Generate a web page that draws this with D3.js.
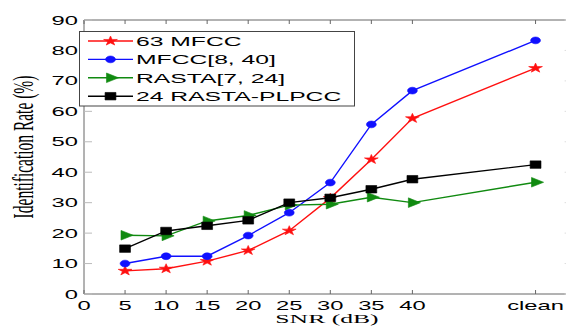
<!DOCTYPE html>
<html><head><meta charset="utf-8">
<script src="https://cdn.jsdelivr.net/npm/d3@7"></script>
<style>
html,body{margin:0;padding:0;background:#fff;overflow:hidden}
svg{display:block}
</style></head>
<body>
<script>
// ---- data ----
const snrLabels = ["5","10","15","20","25","30","35","40","clean"];
const snrPos    = [5,10,15,20,25,30,35,40,55];
const xTicks      = [0,5,10,15,20,25,30,35,40,55];
const xTickLabels = ["0","5","10","15","20","25","30","35","40","clean"];
const yTicks = [0,10,20,30,40,50,60,70,80,90];
const seriesNames = ["63 MFCC","MFCC[8, 40]","RASTA[7, 24]","24 RASTA-PLPCC"];
const mfcc63     = [7.6, 8.3, 10.8, 14.3, 20.8, 31.5, 44.2, 57.7, 74.2];
const mfcc840    = [10.0, 12.4, 12.4, 19.2, 26.7, 36.6, 55.7, 66.8, 83.3];
const rasta724   = [19.3, 19.1, 24.0, 25.8, 29.2, 29.5, 31.8, 30.0, 36.7];
const rastaPlpcc = [14.9, 20.7, 22.4, 24.2, 30.0, 31.6, 34.4, 37.7, 42.5];
const seriesValues = [mfcc63, mfcc840, rasta724, rastaPlpcc];
const seriesColors = ["#ff1010","#1010ff","#108a10","#000000"];
const seriesMarkers = ["star","circle","triangle","square"];

const W=566,H=326, SX=1.9;
const svg=d3.select("body").append("svg").attr("width",W).attr("height",H);
const x=d3.scaleLinear().domain([0,60]).range([84,576.6]);
const y=d3.scaleLinear().domain([0,90]).range([294,20]);
const axisColor="#666";
const sans="'Liberation Sans', Arial, sans-serif";
const serif="'Liberation Serif', 'Times New Roman', serif";

// frame lines
const frame=svg.append("g").attr("stroke",axisColor).attr("stroke-width",1).attr("fill","none");
frame.append("line").attr("x1",x(0)).attr("x2",x(60)).attr("y1",y(0)).attr("y2",y(0));
frame.append("line").attr("x1",x(0)).attr("x2",x(60)).attr("y1",y(90)).attr("y2",y(90));
frame.append("line").attr("x1",x(0)).attr("x2",x(0)).attr("y1",y(0)).attr("y2",y(90));
frame.append("line").attr("x1",x(60)).attr("x2",x(60)).attr("y1",y(0)).attr("y2",y(90));
// ticks
xTicks.forEach(v=>{
  frame.append("line").attr("x1",x(v)).attr("x2",x(v)).attr("y1",y(0)).attr("y2",y(0)-4);
  frame.append("line").attr("x1",x(v)).attr("x2",x(v)).attr("y1",y(90)).attr("y2",y(90)+4);
});
yTicks.forEach(v=>{
  frame.append("line").attr("x1",x(0)).attr("x2",x(0)+8).attr("y1",y(v)).attr("y2",y(v)).attr("stroke","#bbb");
  frame.append("line").attr("x1",x(60)).attr("x2",x(60)-12).attr("y1",y(v)).attr("y2",y(v)).attr("stroke","#ddd");
});
// tick labels
function stretchedText(g, tx, ty, txt, anchor, size, family){
  return g.append("text").attr("transform",`translate(${tx},${ty}) scale(${SX},1)`)
    .attr("text-anchor",anchor).attr("font-family",family).attr("font-size",size)
    .attr("fill","#000").text(txt);
}
const labels=svg.append("g");
xTicks.forEach((v,i)=>stretchedText(labels, x(v), 309.5, xTickLabels[i], "middle", 12.5, sans));
yTicks.forEach(v=>stretchedText(labels, 78, y(v)+4.5, String(v), "end", 12.5, sans));
// axis titles
labels.append("text").attr("transform",`translate(33,147) scale(${SX},1) rotate(-90)`)
  .attr("text-anchor","middle").attr("font-family",serif).attr("font-size",15.5).text("Identification Rate (%)");
stretchedText(labels, 327, 322.5, "SNR (dB)", "middle", 13.5, serif);

// markers
function marker(g, type, cx, cy, color){
  let sym, sx=1.45, size;
  if(type==="star"){sym=d3.symbolStar; size=28;}
  else if(type==="circle"){sym=d3.symbolCircle; size=36;}
  else if(type==="triangle"){sym=d3.symbolTriangle; size=40;}
  else {sym=d3.symbolSquare; size=56;}
  const p=g.append("path").attr("d",d3.symbol().type(sym).size(size)()).attr("fill",color).attr("stroke",color).attr("stroke-width",0.5);
  if(type==="triangle") p.attr("transform",`translate(${cx},${cy}) scale(${sx},1) rotate(90)`);
  else p.attr("transform",`translate(${cx},${cy}) scale(${sx},1)`);
}

// series
const line=d3.line().x((d,i)=>x(snrPos[i])).y(d=>y(d));
seriesValues.forEach((vals,k)=>{
  const g=svg.append("g");
  g.append("path").datum(vals).attr("d",line).attr("fill","none").attr("stroke",seriesColors[k]).attr("stroke-width",1.4);
  vals.forEach((v,i)=>marker(g, seriesMarkers[k], x(snrPos[i]), y(v), seriesColors[k]));
});

// legend
const lg=svg.append("g");
lg.append("rect").attr("x",79.5).attr("y",31.5).attr("width",275).attr("height",74.5).attr("fill","#fff").attr("stroke","#444").attr("stroke-width",1);
seriesNames.forEach((n,k)=>{
  const cy=41+k*18.4;
  lg.append("line").attr("x1",88).attr("x2",133).attr("y1",cy).attr("y2",cy).attr("stroke",seriesColors[k]).attr("stroke-width",1.4);
  marker(lg, seriesMarkers[k], 110.5, cy, seriesColors[k]);
  stretchedText(lg, 136, cy+4.7, n, "start", 13, sans);
});
</script>
</body></html>
